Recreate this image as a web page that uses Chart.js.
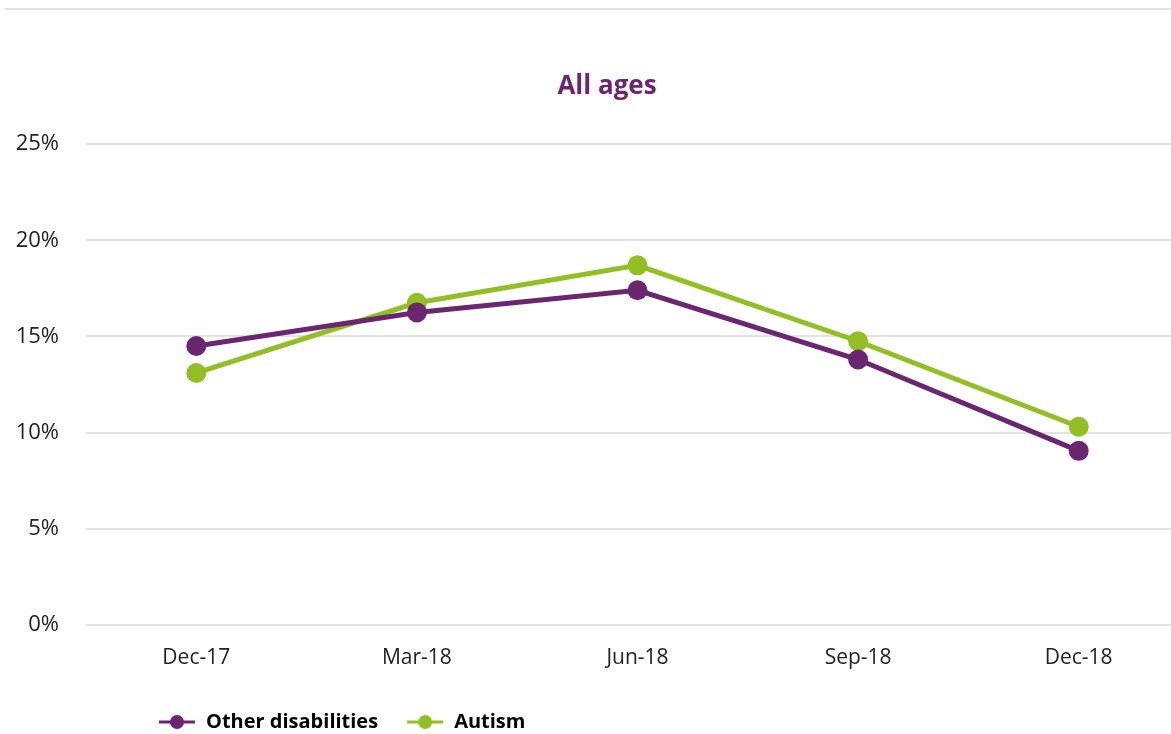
<!DOCTYPE html>
<html>
<head>
<meta charset="utf-8">
<script src="https://cdn.jsdelivr.net/npm/chart.js@4"></script>
<style>
    html, body { margin: 0; padding: 0; background: #fff; overflow: hidden; }
    #topRule { position: absolute; left: 5px; right: 0; top: 8px; height: 0; border-top: 2px solid #e3e3e3; }
    #wrap { position: absolute; left: 0; top: 0; width: 1214px; height: 734px; }
</style>
</head>
<body>
<div id="topRule"></div>
<div id="wrap"><canvas id="ageChart"></canvas></div>
<script>
// 数据
const quarters = ['Dec-17', 'Mar-18', 'Jun-18', 'Sep-18', 'Dec-18'];
const otherDisabilities = [14.5, 16.25, 17.4, 13.8, 9.05];
const autism = [13.1, 16.75, 18.7, 14.75, 10.3];
const yTicks = [0, 5, 10, 15, 20, 25];

const PURPLE = '#6a266e';
const GREEN = '#92bf23';
const FONT = "'Open Sans', 'Liberation Sans', sans-serif";

// 图例标记：线段加圆点
function legendMarker(color) {
    const c = document.createElement('canvas');
    c.width = 38;
    c.height = 16;
    const g = c.getContext('2d');
    g.strokeStyle = color;
    g.lineWidth = 3;
    g.beginPath();
    g.moveTo(1, 8);
    g.lineTo(37, 8);
    g.stroke();
    g.fillStyle = color;
    g.beginPath();
    g.arc(19, 8, 7, 0, Math.PI * 2);
    g.fill();
    return c;
}

// 调整标题和图例的水平位置
const boxShift = {
    id: 'boxShift',
    afterLayout(chart) {
        if (chart.legend) {
            chart.legend.left += 130;
            chart.legend.right += 130;
        }
        if (chart.titleBlock) {
            chart.titleBlock.left += 25;
        }
    }
};

const ctx = document.getElementById('ageChart').getContext('2d');
new Chart(ctx, {
    type: 'line',
    data: {
        labels: quarters,
        datasets: [
            {
                label: 'Other disabilities',
                data: otherDisabilities,
                borderColor: PURPLE,
                backgroundColor: PURPLE,
                borderWidth: 5,
                pointRadius: 10,
                pointHoverRadius: 10,
                pointBorderWidth: 0,
                pointStyle: 'circle'
            },
            {
                label: 'Autism',
                data: autism,
                borderColor: GREEN,
                backgroundColor: GREEN,
                borderWidth: 5,
                pointRadius: 10,
                pointHoverRadius: 10,
                pointBorderWidth: 0,
                pointStyle: 'circle'
            }
        ]
    },
    options: {
        responsive: true,
        maintainAspectRatio: false,
        animation: false,
        layout: {
            padding: { left: 0, right: 25, top: 0, bottom: -8 }
        },
        plugins: {
            title: {
                display: true,
                text: 'All ages',
                color: PURPLE,
                font: { family: FONT, size: 26, weight: 'bold' },
                padding: { top: 71, bottom: 42 }
            },
            legend: {
                display: true,
                position: 'bottom',
                align: 'start',
                labels: {
                    color: '#111',
                    font: { family: FONT, size: 20, weight: 'bold' },
                    usePointStyle: true,
                    pointStyleWidth: 38,
                    boxHeight: 16,
                    padding: 28,
                    generateLabels: function(chart) {
                        return chart.data.datasets.map((ds, i) => ({
                            text: ds.label,
                            fillStyle: ds.borderColor,
                            strokeStyle: ds.borderColor,
                            pointStyle: legendMarker(ds.borderColor),
                            datasetIndex: i,
                            hidden: false,
                            lineWidth: 0
                        }));
                    }
                }
            },
            tooltip: { enabled: false }
        },
        scales: {
            x: {
                offset: true,
                grid: { display: false, drawTicks: false },
                border: { display: false },
                ticks: {
                    color: '#222',
                    font: { family: FONT, size: 21 },
                    padding: 21
                },
                afterFit: function(axis) {
                    axis.height -= 8;
                }
            },
            y: {
                min: 0,
                max: 25,
                afterBuildTicks: function(axis) {
                    axis.ticks = yTicks.map(v => ({ value: v }));
                },
                afterFit: function(axis) {
                    axis.width = 86;
                },
                grid: { color: '#e3e3e3', lineWidth: 2, drawTicks: false },
                border: { display: false },
                ticks: {
                    color: '#222',
                    font: { family: FONT, size: 22 },
                    padding: 27,
                    callback: function(value) {
                        return value + '%';
                    }
                }
            }
        }
    },
    plugins: [boxShift]
});
</script>
</body>
</html>
